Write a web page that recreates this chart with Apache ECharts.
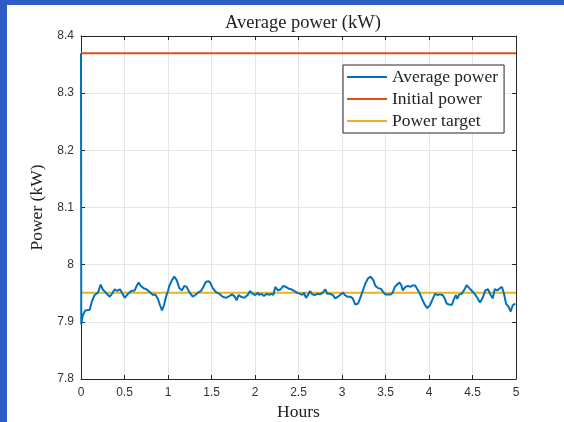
<!DOCTYPE html>
<html>
<head>
<meta charset="utf-8">
<script src="https://cdn.jsdelivr.net/npm/echarts@6/dist/echarts.min.js"></script>
<style>
  html, body { margin: 0; padding: 0; background: #fff; }
  #chart { width: 564px; height: 422px; }
</style>
</head>
<body>
<div id="chart"></div>
<script>
// hours
const hours = [
  0, 0.003, 0.020, 0.049, 0.100, 0.126, 0.157, 0.195, 0.226, 0.249, 0.279, 0.330, 0.356, 0.387, 0.417, 0.448,
  0.471, 0.502, 0.540, 0.578, 0.617, 0.640, 0.663, 0.686, 0.716, 0.751, 0.790, 0.828, 0.854, 0.885, 0.908,
  0.931, 0.954, 0.977, 1.000, 1.015, 1.046, 1.072, 1.100, 1.130, 1.161, 1.187, 1.215, 1.245, 1.284, 1.314,
  1.345, 1.379, 1.406, 1.437, 1.468, 1.491, 1.514, 1.552, 1.590, 1.629, 1.667, 1.705, 1.736, 1.762, 1.790,
  1.813, 1.839, 1.877, 1.916, 1.943, 1.974, 2.003, 2.034, 2.046, 2.072, 2.103, 2.134, 2.161, 2.187, 2.210,
  2.233, 2.264, 2.295, 2.325, 2.356, 2.387, 2.417, 2.448, 2.486, 2.517, 2.544, 2.563, 2.586, 2.609, 2.632,
  2.659, 2.686, 2.716, 2.747, 2.778, 2.808, 2.831, 2.862, 2.893, 2.923, 2.954, 2.985, 3.015, 3.031, 3.061,
  3.095, 3.123, 3.153, 3.184, 3.210, 3.238, 3.268, 3.299, 3.330, 3.360, 3.383, 3.414, 3.445, 3.475, 3.498,
  3.529, 3.560, 3.583, 3.606, 3.632, 3.659, 3.682, 3.698, 3.728, 3.759, 3.785, 3.813, 3.843, 3.866, 3.889,
  3.920, 3.951, 3.980, 4.011, 4.043, 4.069, 4.095, 4.126, 4.157, 4.180, 4.203, 4.233, 4.264, 4.287, 4.310,
  4.325, 4.348, 4.376, 4.402, 4.433, 4.463, 4.494, 4.525, 4.555, 4.586, 4.617, 4.647, 4.678, 4.709, 4.733,
  4.755, 4.785, 4.816, 4.839, 4.862, 4.885, 4.916, 4.939, 4.962, 4.992, 5.000
];
// average power, kW
const avgPower = [
  8.370, 7.895, 7.911, 7.920, 7.921, 7.936, 7.947, 7.951, 7.965, 7.957, 7.952, 7.944, 7.949, 7.957, 7.954, 7.957,
  7.951, 7.942, 7.949, 7.954, 7.955, 7.963, 7.969, 7.963, 7.959, 7.957, 7.952, 7.947, 7.948, 7.940, 7.929,
  7.920, 7.929, 7.944, 7.954, 7.963, 7.973, 7.979, 7.973, 7.959, 7.955, 7.963, 7.961, 7.952, 7.944, 7.947,
  7.951, 7.954, 7.961, 7.970, 7.971, 7.967, 7.959, 7.952, 7.949, 7.944, 7.942, 7.945, 7.948, 7.945, 7.938,
  7.947, 7.944, 7.942, 7.947, 7.954, 7.949, 7.947, 7.951, 7.947, 7.949, 7.945, 7.949, 7.947, 7.949, 7.947,
  7.961, 7.955, 7.957, 7.963, 7.961, 7.958, 7.957, 7.954, 7.951, 7.949, 7.947, 7.951, 7.942, 7.947, 7.954,
  7.948, 7.947, 7.949, 7.948, 7.951, 7.957, 7.949, 7.949, 7.947, 7.941, 7.944, 7.948, 7.951, 7.947, 7.944,
  7.944, 7.941, 7.930, 7.932, 7.942, 7.954, 7.967, 7.976, 7.979, 7.973, 7.963, 7.959, 7.958, 7.952, 7.948,
  7.948, 7.948, 7.951, 7.961, 7.965, 7.969, 7.964, 7.955, 7.961, 7.963, 7.961, 7.964, 7.963, 7.957, 7.951,
  7.940, 7.930, 7.924, 7.929, 7.940, 7.949, 7.947, 7.948, 7.947, 7.941, 7.932, 7.930, 7.930, 7.940, 7.947,
  7.940, 7.948, 7.949, 7.955, 7.964, 7.959, 7.954, 7.949, 7.942, 7.934, 7.942, 7.955, 7.957, 7.947, 7.941,
  7.957, 7.955, 7.959, 7.961, 7.949, 7.932, 7.926, 7.918, 7.929, 7.932, 7.932
];
const initialPower = 8.37;
const powerTarget = 7.951;
const xTicks = [0, 0.5, 1, 1.5, 2, 2.5, 3, 3.5, 4, 4.5, 5];
const yTicks = [7.8, 7.9, 8, 8.1, 8.2, 8.3, 8.4];

const chart = echarts.init(document.getElementById('chart'));

const serif = "'Liberation Serif', 'DejaVu Serif', serif";
const sans = "'Liberation Sans', Arial, sans-serif";
const axisColor = '#262626';

const baseX = {
  type: 'value',
  min: xTicks[0],
  max: xTicks[xTicks.length - 1],
  interval: 0.5,
  axisLine: { show: true, onZero: false, lineStyle: { color: axisColor, width: 1 } },
  axisTick: { show: true, inside: true, length: 4, lineStyle: { color: axisColor } },
  splitLine: { show: false }
};
const baseY = {
  type: 'value',
  min: yTicks[0],
  max: yTicks[yTicks.length - 1],
  interval: 0.1,
  axisLine: { show: true, onZero: false, lineStyle: { color: axisColor, width: 1 } },
  axisTick: { show: true, inside: true, length: 4, lineStyle: { color: axisColor } },
  splitLine: { show: false }
};

chart.setOption({
  animation: false,
  backgroundColor: '#fff',
  title: {
    text: 'Average power (kW)',
    left: 298,
    top: 9,
    textAlign: 'center',
    textStyle: { fontFamily: serif, fontSize: 18.5, fontWeight: 'normal', color: '#222' }
  },
  graphic: [
    { type: 'rect', shape: { x: 0, y: 0, width: 564, height: 5 }, style: { fill: '#2f5dc6' } },
    { type: 'rect', shape: { x: 0, y: 0, width: 7, height: 422 }, style: { fill: '#2f5dc6' } }
  ],
  grid: { left: 81, right: 48, top: 36, bottom: 43, outerBoundsMode: 'none' },
  legend: {
    orient: 'vertical',
    left: 343,
    top: 65,
    padding: [3, 6, 3, 3],
    itemGap: 4,
    itemWidth: 40,
    itemHeight: 14,
    backgroundColor: '#fff',
    borderColor: axisColor,
    borderWidth: 1,
    borderRadius: 0,
    itemStyle: { opacity: 0 },
    textStyle: { fontFamily: serif, fontSize: 17.5, color: '#222' },
    data: ['Average power', 'Initial power', 'Power target']
  },
  xAxis: [
    Object.assign({}, baseX, {
      position: 'bottom',
      name: 'Hours',
      nameLocation: 'middle',
      nameGap: 24,
      nameTextStyle: { fontFamily: serif, fontSize: 17.5, color: '#222' },
      axisLabel: { color: '#333', fontFamily: sans, fontSize: 12, margin: 8 },
      splitLine: { show: true, lineStyle: { color: '#e6e6e6', width: 1 } }
    }),
    Object.assign({}, baseX, { position: 'top', axisLabel: { show: false } })
  ],
  yAxis: [
    Object.assign({}, baseY, {
      position: 'left',
      name: 'Power (kW)',
      nameLocation: 'middle',
      nameGap: 28,
      nameTextStyle: { fontFamily: serif, fontSize: 17.5, color: '#222' },
      axisLabel: { color: '#333', fontFamily: sans, fontSize: 12, margin: 7 },
      splitLine: { show: true, lineStyle: { color: '#e6e6e6', width: 1 } }
    }),
    Object.assign({}, baseY, { position: 'right', axisLabel: { show: false } })
  ],
  series: [
    {
      name: 'Initial power',
      type: 'line',
      symbol: 'none',
      data: [[xTicks[0], initialPower], [xTicks[xTicks.length - 1], initialPower]],
      lineStyle: { color: '#d95319', width: 2 },
      itemStyle: { color: '#d95319' },
      z: 3
    },
    {
      name: 'Power target',
      type: 'line',
      symbol: 'none',
      data: [[xTicks[0], powerTarget], [xTicks[xTicks.length - 1], powerTarget]],
      lineStyle: { color: '#edb120', width: 2 },
      itemStyle: { color: '#edb120' },
      z: 3
    },
    {
      name: 'Average power',
      type: 'line',
      symbol: 'none',
      data: hours.map((h, i) => [h, avgPower[i]]),
      lineStyle: { color: '#0072bd', width: 2 },
      itemStyle: { color: '#0072bd' },
      z: 4
    }
  ]
});
</script>
</body>
</html>
